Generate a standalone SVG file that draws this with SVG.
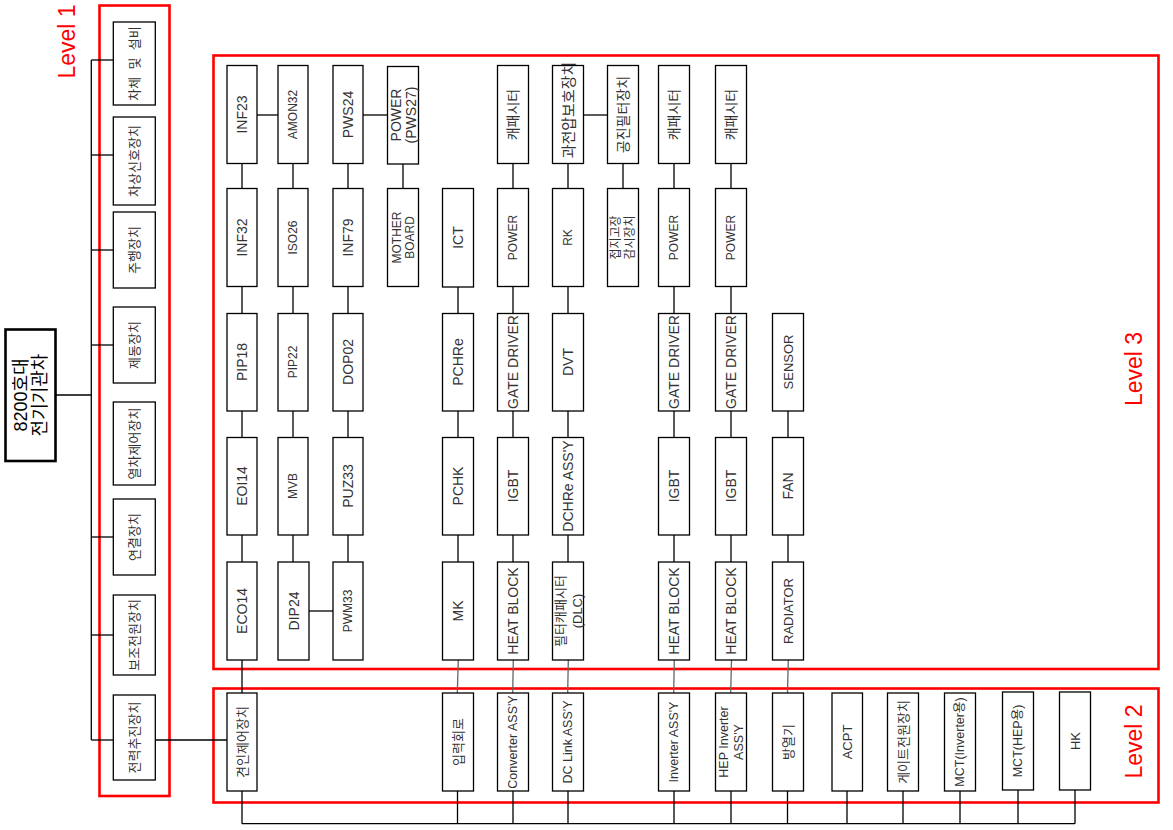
<svg xmlns="http://www.w3.org/2000/svg" width="1173" height="830" viewBox="0 0 1173 830">
<style>
text{font-family:"Liberation Sans","Noto Sans CJK KR",sans-serif;fill:#333;font-size:14px;text-anchor:middle;dominant-baseline:central}
.n rect{fill:#fff;stroke:#000;stroke-width:1.3}
.s{font-size:12px}
.k{font-size:13px}
.m{font-size:12.5px}
.lv{fill:none;stroke:#ff0000;stroke-width:2.6}
.lt{fill:#ff0000;font-size:23px;dominant-baseline:auto}
#connectors line,#connectors polyline{stroke:#000;stroke-width:1.3;fill:none}
#connectors .g{stroke:#666}
</style>
<rect width="1173" height="830" fill="#fff"/>
<!-- level frames -->
<rect class="lv" x="99.5" y="5.5" width="70" height="790.5"/>
<rect class="lv" x="213.5" y="55.5" width="945" height="613.5"/>
<rect class="lv" x="213.5" y="688.5" width="945" height="114"/>
<text class="lt" transform="translate(75,41.5) rotate(-90)">Level 1</text>
<text class="lt" transform="translate(1142,369) rotate(-90)">Level 3</text>
<text class="lt" transform="translate(1142,741.5) rotate(-90)">Level 2</text>

<g id="connectors">
<!-- level 1 tree -->
<line x1="91.3" y1="60" x2="91.3" y2="740"/>
<line x1="56" y1="395" x2="91.3" y2="395"/>
<line x1="91.3" y1="60" x2="113" y2="60"/>
<line x1="91.3" y1="155" x2="113" y2="155"/>
<line x1="91.3" y1="250" x2="113" y2="250"/>
<line x1="91.3" y1="345" x2="113" y2="345"/>
<line x1="91.3" y1="537" x2="113" y2="537"/>
<line x1="91.3" y1="635" x2="113" y2="635"/>
<line x1="91.3" y1="740" x2="113" y2="740"/>
<line x1="155" y1="740" x2="227" y2="740"/>
<!-- column 1 -->
<line x1="242" y1="163.5" x2="242" y2="188.5"/>
<line x1="242" y1="286.5" x2="242" y2="313.5"/>
<line x1="242" y1="411" x2="242" y2="437.5"/>
<line x1="242" y1="535" x2="242" y2="562"/>
<line x1="242" y1="660" x2="242" y2="693"/>
<!-- column 2 -->
<line x1="293" y1="163.5" x2="293" y2="188.5"/>
<line x1="293" y1="286.5" x2="293" y2="313.5"/>
<line x1="293" y1="411" x2="293" y2="437.5"/>
<line x1="293" y1="535" x2="293" y2="562"/>
<!-- column 3 -->
<line x1="348" y1="163.5" x2="348" y2="188.5"/>
<line x1="348" y1="286.5" x2="348" y2="313.5"/>
<line x1="348" y1="411" x2="348" y2="437.5"/>
<line x1="348" y1="535" x2="348" y2="562"/>
<!-- column 4 -->
<line x1="403" y1="163.5" x2="403" y2="188.5"/>
<!-- column 5 -->
<line x1="458" y1="286.5" x2="458" y2="313.5"/>
<line x1="458" y1="411" x2="458" y2="437.5"/>
<line x1="458" y1="535" x2="458" y2="562"/>
<line class="g" x1="458.3" y1="660" x2="457.3" y2="693"/>
<!-- column 6 -->
<line x1="513" y1="163.5" x2="513" y2="188.5"/>
<line x1="513" y1="286.5" x2="513" y2="313.5"/>
<line x1="513" y1="411" x2="513" y2="437.5"/>
<line x1="513" y1="535" x2="513" y2="562"/>
<line class="g" x1="513.3" y1="660" x2="512.7" y2="693"/>
<!-- column 7 -->
<line x1="568" y1="163.5" x2="568" y2="188.5"/>
<line x1="568" y1="286.5" x2="568" y2="313.5"/>
<line x1="568" y1="411" x2="568" y2="437.5"/>
<line x1="568" y1="535" x2="568" y2="562"/>
<line class="g" x1="568.3" y1="660" x2="567.7" y2="693"/>
<!-- column 8 -->
<line x1="623" y1="163.5" x2="623" y2="188.5"/>
<!-- column 9 -->
<line x1="674" y1="163.5" x2="674" y2="188.5"/>
<line x1="674" y1="286.5" x2="674" y2="313.5"/>
<line x1="674" y1="411" x2="674" y2="437.5"/>
<line x1="674" y1="535" x2="674" y2="562"/>
<line class="g" x1="674.3" y1="660" x2="673.7" y2="693"/>
<!-- column 10 -->
<line x1="731" y1="163.5" x2="731" y2="188.5"/>
<line x1="731" y1="286.5" x2="731" y2="313.5"/>
<line x1="731" y1="411" x2="731" y2="437.5"/>
<line x1="731" y1="535" x2="731" y2="562"/>
<line class="g" x1="731.5" y1="660" x2="730.7" y2="693"/>
<!-- column 11 -->
<line x1="788" y1="411" x2="788" y2="437.5"/>
<line x1="788" y1="535" x2="788" y2="562"/>
<line class="g" x1="788.3" y1="660" x2="787.5" y2="693"/>
<!-- horizontal links -->
<line x1="257" y1="115" x2="278" y2="115"/>
<line x1="363" y1="115" x2="387.5" y2="115"/>
<line x1="583.5" y1="115" x2="607.5" y2="115"/>
<line x1="309" y1="611" x2="333" y2="611"/>
<!-- bottom bus -->
<line x1="242" y1="823.7" x2="1075" y2="823.7"/>
<line x1="242" y1="791" x2="242" y2="823.7"/>
<line x1="457.5" y1="791" x2="457.5" y2="823.7"/>
<line x1="513" y1="791" x2="513" y2="823.7"/>
<line x1="568" y1="791" x2="568" y2="823.7"/>
<line x1="674" y1="791" x2="674" y2="823.7"/>
<line x1="731" y1="791" x2="731" y2="823.7"/>
<line x1="787.5" y1="791" x2="787.5" y2="823.7"/>
<line x1="847" y1="791" x2="847" y2="823.7"/>
<line x1="903" y1="791" x2="903" y2="823.7"/>
<line x1="960" y1="791" x2="960" y2="823.7"/>
<line x1="1018" y1="790" x2="1018" y2="823.7"/>
<line x1="1075" y1="790" x2="1075" y2="823.7"/>
</g>

<!-- root -->
<g id="root">
<rect x="5.5" y="329.5" width="50" height="131.5" fill="#fff" stroke="#000" stroke-width="2.6"/>
<text transform="translate(30,395) rotate(-90)" style="fill:#000;font-size:18px"><tspan x="0" y="-9.5">8200호대</tspan><tspan x="0" y="9.5">전기기관차</tspan></text>
</g>

<!-- level 1 -->
<g id="l1-1" class="n"><rect x="113.3" y="22" width="42" height="83"/><text class="k" transform="translate(134.3,63.5) rotate(-90)" xml:space="preserve">차체  및  설비</text></g>
<g id="l1-2" class="n"><rect x="113.3" y="117" width="42" height="88"/><text class="k" transform="translate(134.3,161) rotate(-90)">차상신호장치</text></g>
<g id="l1-3" class="n"><rect x="113.3" y="212" width="42" height="76"/><text class="k" transform="translate(134.3,250) rotate(-90)">주행장치</text></g>
<g id="l1-4" class="n"><rect x="113.3" y="307" width="42" height="76"/><text class="k" transform="translate(134.3,345) rotate(-90)">제동장치</text></g>
<g id="l1-5" class="n"><rect x="113.3" y="402" width="42" height="83"/><text class="k" transform="translate(134.3,443.5) rotate(-90)">열차제어장치</text></g>
<g id="l1-6" class="n"><rect x="113.3" y="499" width="42" height="76"/><text class="k" transform="translate(134.3,537) rotate(-90)">연결장치</text></g>
<g id="l1-7" class="n"><rect x="113.3" y="595" width="42" height="80"/><text class="k" transform="translate(134.3,635) rotate(-90)">보조전원장치</text></g>
<g id="l1-8" class="n"><rect x="113.3" y="695" width="42" height="85"/><text class="k" transform="translate(134.3,737.5) rotate(-90)">전력추진장치</text></g>

<!-- level 3 column 1 -->
<g id="INF23" class="n"><rect x="227" y="65.5" width="30" height="98"/><text transform="translate(242,114.5) rotate(-90)">INF23</text></g>
<g id="INF32" class="n"><rect x="227" y="188.5" width="30" height="98"/><text transform="translate(242,237.5) rotate(-90)">INF32</text></g>
<g id="PIP18" class="n"><rect x="227" y="313.5" width="30" height="97.5"/><text transform="translate(242,362) rotate(-90)">PIP18</text></g>
<g id="EOI14" class="n"><rect x="227" y="437.5" width="30" height="97.5"/><text transform="translate(242,486) rotate(-90)">EOI14</text></g>
<g id="ECO14" class="n"><rect x="227" y="562" width="30" height="98"/><text transform="translate(242,611) rotate(-90)">ECO14</text></g>
<!-- column 2 -->
<g id="AMON32" class="n"><rect x="278" y="65.5" width="30" height="98"/><text class="s" transform="translate(293,114.5) rotate(-90)">AMON32</text></g>
<g id="ISO26" class="n"><rect x="278" y="188.5" width="30" height="98"/><text class="s" transform="translate(293,237.5) rotate(-90)">ISO26</text></g>
<g id="PIP22" class="n"><rect x="278" y="313.5" width="30" height="97.5"/><text class="s" transform="translate(293,362) rotate(-90)">PIP22</text></g>
<g id="MVB" class="n"><rect x="278" y="437.5" width="30" height="97.5"/><text class="s" transform="translate(293,486) rotate(-90)">MVB</text></g>
<g id="DIP24" class="n"><rect x="278" y="562" width="31" height="98"/><text transform="translate(293.5,611) rotate(-90)">DIP24</text></g>
<!-- column 3 -->
<g id="PWS24" class="n"><rect x="333" y="65.5" width="30" height="98"/><text transform="translate(348,114.5) rotate(-90)">PWS24</text></g>
<g id="INF79" class="n"><rect x="333" y="188.5" width="30" height="98"/><text transform="translate(348,237.5) rotate(-90)">INF79</text></g>
<g id="DOP02" class="n"><rect x="333" y="313.5" width="30" height="97.5"/><text transform="translate(348,362) rotate(-90)">DOP02</text></g>
<g id="PUZ33" class="n"><rect x="333" y="437.5" width="30" height="97.5"/><text transform="translate(348,486) rotate(-90)">PUZ33</text></g>
<g id="PWM33" class="n"><rect x="333" y="562" width="30" height="98"/><text class="s" transform="translate(348,611) rotate(-90)">PWM33</text></g>
<!-- column 4 -->
<g id="PWS27" class="n"><rect x="387.5" y="66.5" width="31" height="97.5"/><text transform="translate(403,115) rotate(-90)"><tspan x="0" y="-7.5">POWER</tspan><tspan x="0" y="7.5">(PWS27)</tspan></text></g>
<g id="MOTHERBOARD" class="n"><rect x="387.5" y="188.5" width="31" height="98"/><text class="s" transform="translate(403,237.5) rotate(-90)"><tspan x="0" y="-6.5">MOTHER</tspan><tspan x="0" y="6.5">BOARD</tspan></text></g>
<!-- column 5 -->
<g id="ICT" class="n"><rect x="442.5" y="188.5" width="31" height="98.5"/><text transform="translate(458,237.5) rotate(-90)">ICT</text></g>
<g id="PCHRe" class="n"><rect x="442.5" y="313.5" width="31" height="97.5"/><text transform="translate(458,362) rotate(-90)">PCHRe</text></g>
<g id="PCHK" class="n"><rect x="442.5" y="437.5" width="31" height="97.5"/><text transform="translate(458,486) rotate(-90)">PCHK</text></g>
<g id="MK" class="n"><rect x="442.5" y="562" width="31" height="98"/><text transform="translate(458,611) rotate(-90)">MK</text></g>
<!-- column 6 -->
<g id="CAP1" class="n"><rect x="497.5" y="65.5" width="31" height="98"/><text transform="translate(513,114.5) rotate(-90)">캐패시터</text></g>
<g id="POWER1" class="n"><rect x="497.5" y="188.5" width="31" height="98"/><text class="s" transform="translate(513,237.5) rotate(-90)">POWER</text></g>
<g id="GD1" class="n"><rect x="497.5" y="313.5" width="31" height="97.5"/><text transform="translate(513,362) rotate(-90)">GATE DRIVER</text></g>
<g id="IGBT1" class="n"><rect x="497.5" y="437.5" width="31" height="97.5"/><text transform="translate(513,486) rotate(-90)">IGBT</text></g>
<g id="HB1" class="n"><rect x="497.5" y="562" width="31" height="98"/><text transform="translate(513,611) rotate(-90)">HEAT BLOCK</text></g>
<!-- column 7 -->
<g id="OVP" class="n"><rect x="552.5" y="65.5" width="31" height="98"/><text style="font-size:15px" transform="translate(568,110) rotate(-90)">과전압보호장치</text></g>
<g id="RK" class="n"><rect x="552.5" y="188.5" width="31" height="98"/><text class="s" transform="translate(568,237.5) rotate(-90)">RK</text></g>
<g id="DVT" class="n"><rect x="552.5" y="313.5" width="31" height="97.5"/><text transform="translate(568,362) rotate(-90)">DVT</text></g>
<g id="DCHRe" class="n"><rect x="552.5" y="437.5" width="31" height="97.5"/><text transform="translate(568,486) rotate(-90)">DCHRe ASS'Y</text></g>
<g id="DLC" class="n"><rect x="552.5" y="562" width="31" height="98"/><text class="k" transform="translate(568,611) rotate(-90)"><tspan x="0" y="-8.5">필터캐패시터</tspan><tspan x="0" y="8.5">(DLC)</tspan></text></g>
<!-- column 8 -->
<g id="RESF" class="n"><rect x="607.5" y="65.5" width="31" height="98"/><text transform="translate(623,114.5) rotate(-90)">공진필터장치</text></g>
<g id="GFD" class="n"><rect x="607.5" y="188.5" width="31" height="98"/><text class="s" transform="translate(623,237.5) rotate(-90)"><tspan x="0" y="-7">접지고장</tspan><tspan x="0" y="7">감시장치</tspan></text></g>
<!-- column 9 -->
<g id="CAP2" class="n"><rect x="658.5" y="65.5" width="31" height="98"/><text transform="translate(674,114.5) rotate(-90)">캐패시터</text></g>
<g id="POWER2" class="n"><rect x="658.5" y="188.5" width="31" height="98"/><text class="s" transform="translate(674,237.5) rotate(-90)">POWER</text></g>
<g id="GD2" class="n"><rect x="658.5" y="313.5" width="31" height="97.5"/><text transform="translate(674,362) rotate(-90)">GATE DRIVER</text></g>
<g id="IGBT2" class="n"><rect x="658.5" y="437.5" width="31" height="97.5"/><text transform="translate(674,486) rotate(-90)">IGBT</text></g>
<g id="HB2" class="n"><rect x="658.5" y="562" width="31" height="98"/><text transform="translate(674,611) rotate(-90)">HEAT BLOCK</text></g>
<!-- column 10 -->
<g id="CAP3" class="n"><rect x="715.5" y="65.5" width="31" height="98"/><text transform="translate(731,114.5) rotate(-90)">캐패시터</text></g>
<g id="POWER3" class="n"><rect x="715.5" y="188.5" width="31" height="98"/><text class="s" transform="translate(731,237.5) rotate(-90)">POWER</text></g>
<g id="GD3" class="n"><rect x="715.5" y="313.5" width="31" height="97.5"/><text transform="translate(731,362) rotate(-90)">GATE DRIVER</text></g>
<g id="IGBT3" class="n"><rect x="715.5" y="437.5" width="31" height="97.5"/><text transform="translate(731,486) rotate(-90)">IGBT</text></g>
<g id="HB3" class="n"><rect x="715.5" y="562" width="31" height="98"/><text transform="translate(731,611) rotate(-90)">HEAT BLOCK</text></g>
<!-- column 11 -->
<g id="SENSOR" class="n"><rect x="772.5" y="313.5" width="31" height="97.5"/><text class="k" transform="translate(788,362) rotate(-90)">SENSOR</text></g>
<g id="FAN" class="n"><rect x="772.5" y="437.5" width="31" height="97.5"/><text transform="translate(788,486) rotate(-90)">FAN</text></g>
<g id="RADIATOR" class="n"><rect x="772.5" y="562" width="31" height="98"/><text class="k" transform="translate(788,611) rotate(-90)">RADIATOR</text></g>

<!-- level 2 -->
<g id="l2-1" class="n"><rect x="227" y="693" width="30" height="98"/><text class="k" transform="translate(242,742) rotate(-90)">견인제어장치</text></g>
<g id="l2-2" class="n"><rect x="442.5" y="693" width="31" height="98"/><text class="k" transform="translate(458,742) rotate(-90)">입력회로</text></g>
<g id="l2-3" class="n"><rect x="497.5" y="693" width="31" height="98"/><text class="m" transform="translate(513,742) rotate(-90)">Converter ASS'Y</text></g>
<g id="l2-4" class="n"><rect x="552.5" y="693" width="31" height="98"/><text class="m" transform="translate(568,742) rotate(-90)">DC Link ASS'Y</text></g>
<g id="l2-5" class="n"><rect x="658.5" y="693" width="31" height="98"/><text class="m" transform="translate(674,742) rotate(-90)">Inverter ASS'Y</text></g>
<g id="l2-6" class="n"><rect x="715.5" y="693" width="31" height="98"/><text class="m" transform="translate(731,742) rotate(-90)"><tspan x="0" y="-7.5">HEP Inverter</tspan><tspan x="0" y="7.5">ASS'Y</tspan></text></g>
<g id="l2-7" class="n"><rect x="772.5" y="693" width="31" height="98"/><text class="k" transform="translate(788,742) rotate(-90)">방열기</text></g>
<g id="l2-8" class="n"><rect x="832" y="693" width="30.5" height="98"/><text class="k" transform="translate(847,742) rotate(-90)">ACPT</text></g>
<g id="l2-9" class="n"><rect x="887.5" y="693" width="31" height="98"/><text class="k" transform="translate(903,742) rotate(-90)">게이트전원장치</text></g>
<g id="l2-10" class="n"><rect x="944.5" y="693" width="31" height="98"/><text class="m" transform="translate(960,742) rotate(-90)">MCT(Inverter용)</text></g>
<g id="l2-11" class="n"><rect x="1002.5" y="692" width="31" height="98"/><text class="m" transform="translate(1018,741) rotate(-90)">MCT(HEP용)</text></g>
<g id="l2-12" class="n"><rect x="1059.5" y="692" width="31" height="98"/><text class="k" transform="translate(1075,741) rotate(-90)">HK</text></g>
</svg>
